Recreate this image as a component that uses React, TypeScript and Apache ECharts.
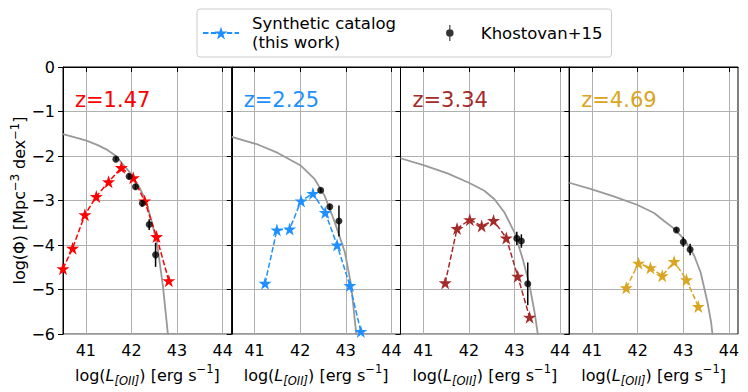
import React, { useEffect, useRef } from 'react';
import * as echarts from 'echarts';

const FONT = 'DejaVu Sans';

const panelLabels = ['z=1.47', 'z=2.25', 'z=3.34', 'z=4.69'];
const panelColors = ['#ff0000', '#1e90ff', '#a52a2a', '#daa520'];
const xTicks = [41, 42, 43, 44];

// Synthetic catalog (stars)
const synX1 = [40.5, 40.71, 40.98, 41.23, 41.5, 41.78, 42.04, 42.29, 42.55, 42.82];
const synY1 = [-4.53, -4.07, -3.32, -2.91, -2.58, -2.26, -2.49, -3.01, -3.81, -4.8];
const synX2 = [41.23, 41.49, 41.77, 42.02, 42.28, 42.55, 42.81, 43.09, 43.33];
const synY2 = [-4.86, -3.66, -3.64, -3.01, -2.84, -3.27, -4.0, -4.91, -5.94];
const synX3 = [41.48, 41.74, 42.02, 42.28, 42.54, 42.82, 43.07, 43.33];
const synY3 = [-4.85, -3.63, -3.43, -3.57, -3.45, -3.84, -4.7, -5.62];
const synX4 = [41.75, 42.02, 42.28, 42.54, 42.8, 43.07, 43.33];
const synY4 = [-4.96, -4.41, -4.51, -4.69, -4.37, -4.78, -5.38];

// Khostovan+15 (points with error bars)
const khX1 = [41.66, 41.95, 42.09, 42.24, 42.39, 42.53];
const khY1 = [-2.07, -2.46, -2.69, -3.06, -3.54, -4.22];
const khE1 = [0.04, 0.05, 0.06, 0.07, 0.12, 0.27];
const khX2 = [42.45, 42.65, 42.85];
const khY2 = [-2.77, -3.14, -3.46];
const khE2 = [0.05, 0.07, 0.35];
const khX3 = [43.05, 43.15, 43.29];
const khY3 = [-3.85, -3.91, -4.87];
const khE3 = [0.15, 0.15, 0.48];
const khX4 = [42.85, 43.0, 43.15];
const khY4 = [-3.66, -3.93, -4.1];
const khE4 = [0.05, 0.11, 0.13];

// Luminosity function curves (gray)
const lfX1 = [40.5, 41.0, 41.25, 41.45, 41.66, 42.0, 42.18, 42.33, 42.47, 42.58, 42.69, 42.8, 42.86];
const lfY1 = [-1.51, -1.65, -1.75, -1.85, -2.0, -2.41, -2.71, -3.04, -3.57, -4.09, -4.91, -6.0, -6.6];
const lfX2 = [40.5, 41.07, 41.51, 42.02, 42.32, 42.54, 42.76, 42.98, 43.12, 43.23, 43.3];
const lfY2 = [-1.57, -1.74, -1.93, -2.22, -2.52, -2.9, -3.49, -4.16, -4.91, -6.0, -6.6];
const lfX3 = [40.5, 41.02, 41.53, 42.0, 42.34, 42.56, 42.78, 43.0, 43.18, 43.33, 43.44, 43.51, 43.56];
const lfY3 = [-2.05, -2.21, -2.39, -2.6, -2.78, -2.97, -3.27, -3.72, -4.31, -4.91, -5.51, -6.0, -6.4];
const lfX4 = [40.5, 41.0, 41.49, 42.0, 42.36, 42.58, 42.8, 43.02, 43.24, 43.38, 43.53, 43.61, 43.64, 43.68];
const lfY4 = [-2.6, -2.75, -2.91, -3.1, -3.28, -3.46, -3.63, -3.87, -4.24, -4.61, -5.28, -5.73, -6.0, -6.3];

const synX = [synX1, synX2, synX3, synX4];
const synY = [synY1, synY2, synY3, synY4];
const khX = [khX1, khX2, khX3, khX4];
const khY = [khY1, khY2, khY3, khY4];
const khE = [khE1, khE2, khE3, khE4];
const lfX = [lfX1, lfX2, lfX3, lfX4];
const lfY = [lfY1, lfY2, lfY3, lfY4];

const SYN_NAME = 'Synthetic catalog\n(this work)';
const KH_NAME = 'Khostovan+15';

const STAR =
  'path://M50,0L61.23,34.55L97.55,34.55L68.16,55.9L79.39,90.45L50,69.1L20.61,90.45L31.84,55.9L2.45,34.55L38.77,34.55Z';
const ERR_ICON = 'path://M9.4,0h1.2v17h-1.2z M10,4.5a4,4 0 1,1 0,8a4,4 0 1,1 0,-8z';

const GL = 63;
const GW = 168.75;
const GT = 67;
const GH = 268;

const zip = (a: number[], b: number[]) => a.map((v, i) => [v, b[i]]);

export default function App() {
  const ref = useRef<HTMLDivElement>(null);
  useEffect(() => {
    document.body.style.margin = '0';
    const chart = echarts.init(ref.current!, undefined, { renderer: 'svg' });
    const grids: any[] = [];
    const xAxes: any[] = [];
    const yAxes: any[] = [];
    const series: any[] = [];
    const graphics: any[] = [];
    for (let i = 0; i < 4; i++) {
      grids.push({
        left: GL + i * GW,
        top: GT,
        width: GW,
        height: GH,
        show: true,
        borderColor: '#000',
        borderWidth: 1,
        backgroundColor: 'transparent',
      });
      xAxes.push({
        gridIndex: i,
        type: 'value',
        min: 40.5,
        max: 44.2,
        axisLine: { show: true, lineStyle: { color: '#000', width: 1 } },
        axisTick: { show: true, length: 5, lineStyle: { color: '#000', width: 1 }, customValues: xTicks },
        axisLabel: { customValues: xTicks, fontSize: 16, color: '#000', margin: 8, fontFamily: FONT },
        splitLine: { show: true, lineStyle: { color: '#b0b0b0', width: 1 } },
        name: '{n|log(}{i|L}{b|[OII]}{n|) [erg s}{s|−1}{n|]}',
        nameLocation: 'middle',
        nameGap: 26,
        nameTextStyle: {
          rich: {
            n: { fontSize: 16, fontFamily: FONT, color: '#000', lineHeight: 24, verticalAlign: 'middle' },
            i: { fontSize: 16, fontFamily: FONT, color: '#000', lineHeight: 24, verticalAlign: 'middle', fontStyle: 'italic' },
            b: { fontSize: 11.5, fontFamily: FONT, color: '#000', lineHeight: 12, verticalAlign: 'bottom', fontStyle: 'italic' },
            s: { fontSize: 11.5, fontFamily: FONT, color: '#000', lineHeight: 12, verticalAlign: 'top' },
          },
        },
      });
      yAxes.push({
        gridIndex: i,
        type: 'value',
        min: -6,
        max: 0,
        interval: 1,
        axisLine: { show: true, lineStyle: { color: '#000', width: 1 } },
        axisTick: { show: true, length: 5, lineStyle: { color: '#000', width: 1 } },
        axisLabel: {
          show: i === 0,
          fontSize: 16,
          color: '#000',
          margin: 8,
          fontFamily: FONT,
          formatter: (v: number) => (v < 0 ? '−' + Math.abs(v) : String(v)),
        },
        splitLine: { show: true, lineStyle: { color: '#b0b0b0', width: 1 } },
        ...(i === 0
          ? {
              name: '{n|log(Φ) [Mpc}{s|−3}{n| dex}{s|−1}{n|]}',
              nameLocation: 'middle',
              nameGap: 31,
              nameRotate: 90,
              nameTextStyle: {
                rich: {
                  n: { fontSize: 16, fontFamily: FONT, color: '#000', lineHeight: 22, verticalAlign: 'middle' },
                  s: { fontSize: 11.5, fontFamily: FONT, color: '#000', lineHeight: 12, verticalAlign: 'top' },
                },
              },
            }
          : {}),
      });
      series.push({
        type: 'line',
        name: 'lf' + i,
        xAxisIndex: i,
        yAxisIndex: i,
        data: zip(lfX[i], lfY[i]),
        symbol: 'none',
        lineStyle: { color: '#999999', width: 1.8 },
        silent: true,
        z: 2,
      });
      series.push({
        type: 'line',
        name: i === 1 ? SYN_NAME : 'syn' + i,
        xAxisIndex: i,
        yAxisIndex: i,
        data: zip(synX[i], synY[i]),
        symbol: STAR,
        symbolSize: 13,
        lineStyle: { color: panelColors[i], width: 1.5, type: [5.5, 2.4] },
        itemStyle: { color: panelColors[i] },
        z: 3,
      });
      series.push({
        type: 'custom',
        name: 'err' + i,
        xAxisIndex: i,
        yAxisIndex: i,
        data: khX[i].map((x, j) => [x, khY[i][j] - khE[i][j], khY[i][j] + khE[i][j]]),
        renderItem: (_p: any, api: any) => {
          const x = api.value(0);
          const p1 = api.coord([x, api.value(1)]);
          const p2 = api.coord([x, api.value(2)]);
          return {
            type: 'line',
            shape: { x1: p1[0], y1: p1[1], x2: p2[0], y2: p2[1] },
            style: { stroke: '#000', lineWidth: 1.5 },
          };
        },
        z: 4,
      });
      series.push({
        type: 'scatter',
        name: KH_NAME,
        xAxisIndex: i,
        yAxisIndex: i,
        data: zip(khX[i], khY[i]),
        symbol: 'circle',
        symbolSize: 7,
        itemStyle: { color: '#000' },
        z: 5,
      });
      graphics.push({
        type: 'text',
        x: GL + i * GW + 12,
        y: 100,
        z: 10,
        style: {
          text: panelLabels[i],
          fill: panelColors[i],
          fontSize: 21,
          fontFamily: FONT,
          verticalAlign: 'middle',
          align: 'left',
        },
      });
    }
    chart.setOption({
      animation: false,
      textStyle: { fontFamily: FONT },
      grid: grids,
      xAxis: xAxes,
      yAxis: yAxes,
      series,
      graphic: graphics,
      legend: {
        left: 197,
        top: 9,
        orient: 'horizontal',
        selectedMode: false,
        data: [{ name: SYN_NAME }, { name: KH_NAME, icon: ERR_ICON }],
        itemWidth: 36,
        itemHeight: 16,
        itemGap: 50,
        padding: [5, 9, 5, 5],
        borderColor: '#cccccc',
        borderWidth: 1,
        borderRadius: 3,
        backgroundColor: 'rgba(255,255,255,0.8)',
        textStyle: { fontSize: 16.5, color: '#000', lineHeight: 19, padding: [0, 0, 0, 8], fontFamily: FONT },
      },
    });
    return () => chart.dispose();
  }, []);
  return <div ref={ref} style={{ width: 748, height: 392 }} />;
}
